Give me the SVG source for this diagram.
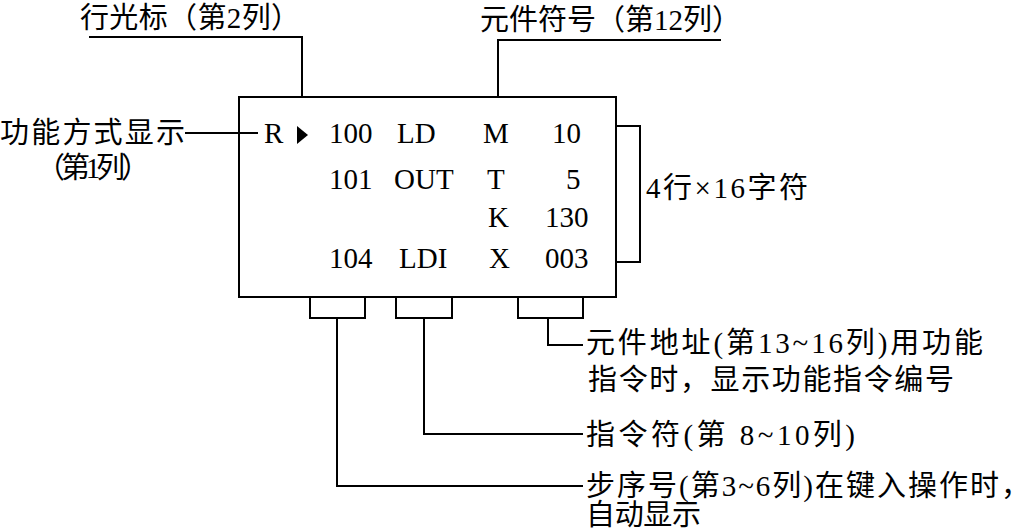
<svg xmlns="http://www.w3.org/2000/svg" width="1030" height="530" viewBox="0 0 1030 530">
<style>
.ln{fill:none;stroke:#000;stroke-width:2}
.t{font-family:"Liberation Serif","Noto Sans CJK SC",serif;font-size:29px;fill:#000}
.c{font-family:"Liberation Serif","Noto Sans CJK SC",serif;font-size:29px;fill:#000;dominant-baseline:central}
</style>
<rect width="1030" height="530" fill="#fff"/>
<g id="display">
<rect class="ln" x="239" y="97" width="377" height="200"/>
<text class="t" x="264" y="143">R</text>
<polygon points="297,126 308,135 297,144" fill="#000"/>
<text class="t" x="329" y="143">100</text>
<text class="t" x="397" y="143">LD</text>
<text class="t" x="483" y="143">M</text>
<text class="t" x="552" y="143">10</text>
<text class="t" x="329" y="189">101</text>
<text class="t" x="394" y="189">OUT</text>
<text class="t" x="487" y="189">T</text>
<text class="t" x="566" y="189">5</text>
<text class="t" x="488" y="227">K</text>
<text class="t" x="545" y="227">130</text>
<text class="t" x="329" y="268">104</text>
<text class="t" x="399" y="268">LDI</text>
<text class="t" x="489" y="268">X</text>
<text class="t" x="545" y="268">003</text>
</g>
<g id="brackets">
<polyline class="ln" points="616,126 640,126 640,262 616,262"/>
<rect class="ln" x="310" y="297" width="55" height="21"/>
<rect class="ln" x="396" y="297" width="56" height="21"/>
<rect class="ln" x="518" y="297" width="65" height="21"/>
</g>
<g id="connectors">
<polyline class="ln" points="89,37 302,37 302,97"/>
<polyline class="ln" points="721,40 498,40 498,97"/>
<line class="ln" x1="185" y1="133" x2="258" y2="133"/>
<polyline class="ln" points="548,318 548,345 583,345"/>
<polyline class="ln" points="424,318 424,434 583,434"/>
<polyline class="ln" points="337,318 337,486 583,486"/>
</g>
<g id="label-cursor"><text class="c" x="80" y="18" textLength="220" lengthAdjust="spacing">行光标（第2列）</text></g>
<g id="label-symbol"><text class="c" x="480" y="20" textLength="261" lengthAdjust="spacing">元件符号（第12列）</text></g>
<g id="label-mode">
<text class="c" x="0" y="133" textLength="185" lengthAdjust="spacing">功能方式显示</text>
<text class="c" x="36" y="168" textLength="114" lengthAdjust="spacing">（第1列）</text>
</g>
<g id="label-size"><text class="c" x="646" y="188" textLength="162" lengthAdjust="spacing">4行×16字符</text></g>
<g id="label-address">
<text class="c" x="586" y="343" textLength="397" lengthAdjust="spacing">元件地址(第13~16列)用功能</text>
<text class="c" x="588" y="380" textLength="366" lengthAdjust="spacing">指令时，显示功能指令编号</text>
</g>
<g id="label-instr"><text class="c" x="586" y="435" textLength="269" lengthAdjust="spacing">指令符(第 8~10列)</text></g>
<g id="label-step">
<text class="c" x="586" y="486" textLength="444" lengthAdjust="spacing">步序号(第3~6列)在键入操作时，</text>
<text class="c" x="586" y="515" textLength="115" lengthAdjust="spacing">自动显示</text>
</g>
</svg>
